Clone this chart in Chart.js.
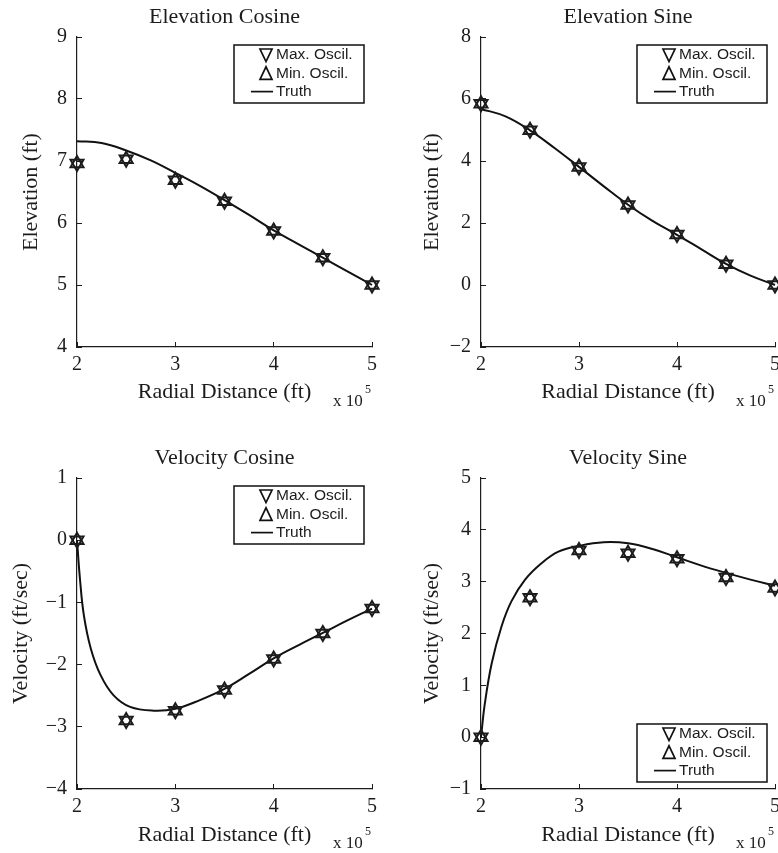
<!DOCTYPE html>
<html>
<head>
<meta charset="utf-8">
<script src="https://cdn.jsdelivr.net/npm/chart.js@4.4.1/dist/chart.umd.min.js"></script>
<style>
  body { margin: 0; width: 778px; height: 853px; overflow: hidden; background: #fff; position: relative; }
  canvas { position: absolute; }
</style>
</head>
<body>
<canvas id="elevCos" width="395" height="425" style="left:0;top:0"></canvas>
<canvas id="elevSin" width="435" height="425" style="left:395px;top:0"></canvas>
<canvas id="velCos" width="395" height="428" style="left:0;top:425px"></canvas>
<canvas id="velSin" width="435" height="428" style="left:395px;top:425px"></canvas>
<script>
// radial distance of the stations, in units of 1e5 ft
const stations = [2, 2.5, 3, 3.5, 4, 4.5, 5];

const elevCosMax = [6.96, 7.03, 6.69, 6.35, 5.87, 5.44, 5.00];
const elevCosMin = [6.96, 7.03, 6.69, 6.35, 5.87, 5.44, 5.00];
const elevSinMax = [5.85, 4.99, 3.81, 2.58, 1.63, 0.67, 0.00];
const elevSinMin = [5.85, 4.99, 3.81, 2.58, 1.63, 0.67, 0.00];
const velCosMax = [0.00, -2.90, -2.74, -2.41, -1.91, -1.50, -1.10];
const velCosMin = [0.00, -2.90, -2.74, -2.41, -1.91, -1.50, -1.10];
const velSinMax = [0.00, 2.69, 3.60, 3.55, 3.44, 3.08, 2.88];
const velSinMin = [0.00, 2.69, 3.60, 3.55, 3.44, 3.08, 2.88];

// exact solution, sampled along the radius
const elevTruthX = [2, 2.25, 2.5, 2.75, 3, 3.25, 3.5, 3.75, 4, 4.25, 4.5, 4.75, 5];
const elevCosTruth = [7.32, 7.29, 7.17, 7.01, 6.81, 6.60, 6.37, 6.13, 5.88, 5.66, 5.44, 5.22, 5.00];
const elevSinTruth = [5.68, 5.44, 4.99, 4.42, 3.81, 3.19, 2.59, 2.07, 1.62, 1.15, 0.68, 0.30, 0.00];
const velCosTruthX = [2, 2.03, 2.07, 2.14, 2.24, 2.37, 2.54, 2.78, 3, 3.25, 3.5, 3.75, 4, 4.25, 4.5, 4.75, 5];
const velCosTruth = [0, -0.62, -1.21, -1.74, -2.17, -2.49, -2.68, -2.74, -2.71, -2.57, -2.39, -2.15, -1.90, -1.69, -1.49, -1.29, -1.10];
const velSinTruthX = [2, 2.04, 2.11, 2.21, 2.31, 2.45, 2.62, 2.79, 3, 3.25, 3.5, 3.75, 4, 4.25, 4.5, 4.75, 5];
const velSinTruth = [0, 0.66, 1.43, 2.14, 2.62, 3.04, 3.36, 3.58, 3.69, 3.76, 3.74, 3.63, 3.47, 3.31, 3.17, 3.04, 2.92];

const ink = '#1c1c1c';
Chart.defaults.font.family = '"Liberation Serif", "Times New Roman", serif';
Chart.defaults.color = ink;

const pairs = (xs, ys) => xs.map((x, i) => ({x: x, y: ys[i]}));

// title, x10^5 multiplier and the boxed legend
const panelDecor = {
  id: 'panelDecor',
  afterDraw(chart, args, opts) {
    const ctx = chart.ctx;
    const a = chart.chartArea;
    ctx.save();
    ctx.fillStyle = ink;
    ctx.textBaseline = 'middle';
    ctx.textAlign = 'center';
    ctx.font = '22px "Liberation Serif"';
    ctx.fillText(opts.title, (a.left + a.right) / 2, a.top - 20);

    ctx.textAlign = 'left';
    ctx.font = '17px "Liberation Serif"';
    ctx.fillText('x 10', a.right - 39, a.bottom + 55);
    ctx.font = '12px "Liberation Serif"';
    ctx.fillText('5', a.right - 7, a.bottom + 43);

    const w = 130, h = 58;
    const bx = a.right - 8 - w;
    const by = opts.legendAt === 'bottom' ? a.bottom - 7 - h : a.top + 8;
    ctx.fillStyle = '#fff';
    ctx.fillRect(bx, by, w, h);
    ctx.strokeStyle = '#111';
    ctx.lineWidth = 1.5;
    ctx.strokeRect(bx, by, w, h);

    ctx.font = '15.5px "Liberation Sans"';
    ctx.lineWidth = 1.7;
    chart.data.datasets.forEach((ds, i) => {
      const y = by + 10 + i * 18.3;
      const cx = bx + 32;
      ctx.beginPath();
      if (ds.showLine === false) {
        const s = ds.pointRotation === 180 ? 1 : -1;
        ctx.moveTo(cx - 6, y - 6 * s);
        ctx.lineTo(cx + 6, y - 6 * s);
        ctx.lineTo(cx, y + 6.5 * s);
        ctx.closePath();
      } else {
        ctx.moveTo(bx + 17, y);
        ctx.lineTo(bx + 39, y);
      }
      ctx.stroke();
      ctx.fillStyle = ink;
      ctx.fillText(ds.label, bx + 42, y);
    });
    ctx.restore();
  }
};

function markerSet(label, vals, rotation) {
  return {
    label: label,
    data: pairs(stations, vals),
    showLine: false,
    pointStyle: 'triangle',
    pointRotation: rotation,
    pointRadius: 7.5,
    pointBorderWidth: 2,
    pointBorderColor: ink,
    pointBackgroundColor: 'rgba(0,0,0,0)',
    borderColor: ink,
    backgroundColor: 'rgba(0,0,0,0)'
  };
}

function makePanel(id, p) {
  const minus = v => String(v).replace('-', '\u2212');
  return new Chart(document.getElementById(id), {
    type: 'line',
    data: {
      datasets: [
        markerSet('Max. Oscil.', p.max, 180),
        markerSet('Min. Oscil.', p.min, 0),
        {
          label: 'Truth',
          data: pairs(p.truthX, p.truth),
          borderColor: '#111',
          borderWidth: 2,
          pointRadius: 0,
          tension: 0.4,
          fill: false
        }
      ]
    },
    options: {
      responsive: false,
      animation: false,
      events: [],
      clip: false,
      layout: {padding: {left: 0, top: p.top, right: p.right, bottom: 0}},
      plugins: {
        legend: {display: false},
        tooltip: {enabled: false},
        panelDecor: {title: p.title, legendAt: p.legendAt}
      },
      scales: {
        x: {
          type: 'linear', min: 2, max: 5,
          afterFit: s => { s.height = p.xHeight; },
          border: {color: ink, width: 1.2},
          grid: {drawOnChartArea: false, tickLength: -5, color: ink},
          ticks: {stepSize: 1, padding: 11, font: {size: 20}},
          title: {display: true, text: 'Radial Distance (ft)', font: {size: 22, lineHeight: 1.2},
                  padding: {top: 0, bottom: p.xTitlePad}}
        },
        y: {
          min: p.yMin, max: p.yMax,
          afterFit: s => { s.width = p.yWidth; },
          border: {color: ink, width: 1.2},
          grid: {drawOnChartArea: false, tickLength: -5, color: ink},
          ticks: {stepSize: p.yStep, padding: 15, font: {size: 20}, callback: minus},
          title: {display: true, text: p.yLabel, font: {size: 22, lineHeight: 1.2},
                  padding: {top: p.yTitlePad, bottom: 0}}
        }
      }
    },
    plugins: [panelDecor]
  });
}

makePanel('elevCos', {
  title: 'Elevation Cosine', yLabel: 'Elevation (ft)', legendAt: 'top',
  max: elevCosMax, min: elevCosMin, truthX: elevTruthX, truth: elevCosTruth,
  yMin: 4, yMax: 9, yStep: 1,
  top: 37, right: 23, xHeight: 78, yWidth: 77, xTitlePad: 20, yTitlePad: 18
});
makePanel('elevSin', {
  title: 'Elevation Sine', yLabel: 'Elevation (ft)', legendAt: 'top',
  max: elevSinMax, min: elevSinMin, truthX: elevTruthX, truth: elevSinTruth,
  yMin: -2, yMax: 8, yStep: 2,
  top: 37, right: 55, xHeight: 78, yWidth: 86, xTitlePad: 20, yTitlePad: 24
});
makePanel('velCos', {
  title: 'Velocity Cosine', yLabel: 'Velocity (ft/sec)', legendAt: 'top',
  max: velCosMax, min: velCosMin, truthX: velCosTruthX, truth: velCosTruth,
  yMin: -4, yMax: 1, yStep: 1,
  top: 53, right: 23, xHeight: 64, yWidth: 77, xTitlePad: 5, yTitlePad: 8
});
makePanel('velSin', {
  title: 'Velocity Sine', yLabel: 'Velocity (ft/sec)', legendAt: 'bottom',
  max: velSinMax, min: velSinMin, truthX: velSinTruthX, truth: velSinTruth,
  yMin: -1, yMax: 5, yStep: 1,
  top: 53, right: 55, xHeight: 64, yWidth: 86, xTitlePad: 5, yTitlePad: 24
});
</script>
</body>
</html>
